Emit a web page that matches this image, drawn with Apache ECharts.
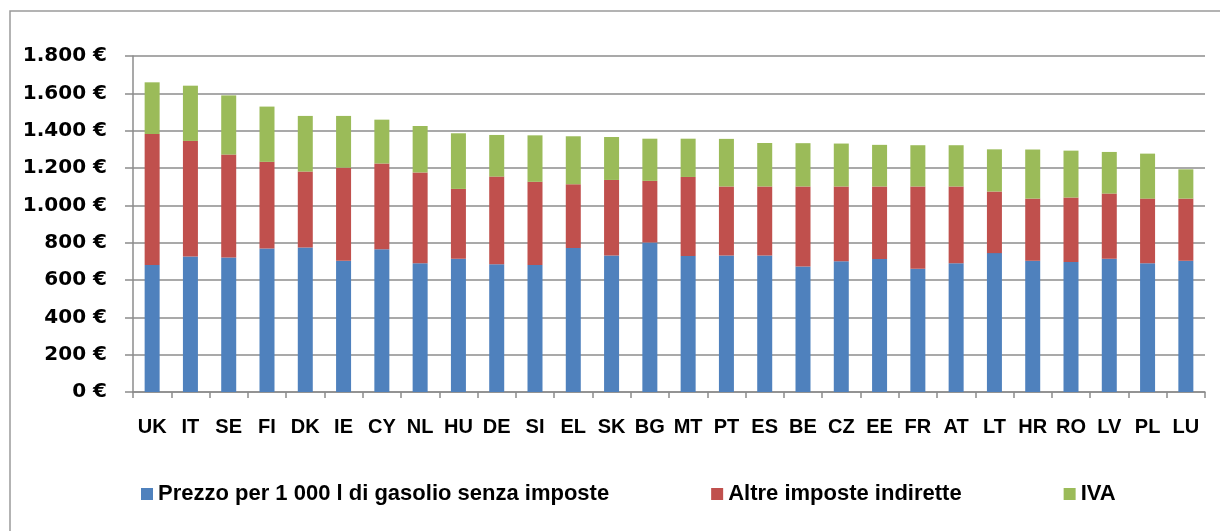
<!DOCTYPE html>
<html>
<head>
<meta charset="utf-8">
<script src="https://cdn.jsdelivr.net/npm/echarts@6/dist/echarts.min.js"></script>
<style>
  html, body { margin: 0; padding: 0; background: #fff; }
  #chart { width: 1220px; height: 531px; }
</style>
</head>
<body>
<div id="chart"></div>
<script>
var paesi = ['UK', 'IT', 'SE', 'FI', 'DK', 'IE', 'CY', 'NL', 'HU', 'DE', 'SI', 'EL', 'SK', 'BG',
    'MT', 'PT', 'ES', 'BE', 'CZ', 'EE', 'FR', 'AT', 'LT', 'HR', 'RO', 'LV', 'PL', 'LU'];

// prezzo senza imposte
var prezzo = [680, 726, 721, 769, 774, 703, 765, 690, 714, 685, 681, 771, 731, 801,
    728, 731, 731, 672, 701, 712, 660, 690, 744, 703, 697, 714, 690, 703];
// altre imposte indirette
var altreImposte = [702, 619, 551, 464, 407, 499, 459, 486, 374, 469, 445, 342, 405, 330,
    424, 370, 370, 429, 400, 389, 441, 411, 330, 333, 345, 349, 346, 333];
// IVA
var iva = [277, 296, 317, 296, 298, 277, 235, 249, 298, 223, 249, 257, 230, 226,
    205, 255, 233, 232, 230, 223, 221, 221, 226, 263, 251, 223, 241, 157];

var yTicks = [0, 200, 400, 600, 800, 1000, 1200, 1400, 1600, 1800];

function formatEuro(v) {
    return String(v).replace(/\B(?=(\d{3})+(?!\d))/g, '.') + ' €';
}

var chartDom = document.getElementById('chart');
var myChart = echarts.init(chartDom);

var option = {
    animation: false,
    graphic: [{
        type: 'rect',
        shape: { x: 10, y: 11, width: 1230, height: 540 },
        style: { fill: 'none', stroke: '#9a9a9a', lineWidth: 1.5 }
    }],
    grid: { left: 133, right: 15, top: 56, bottom: 139 },
    legend: {
        bottom: 21,
        left: 136,
        itemWidth: 12,
        itemHeight: 12,
        itemGap: 102,
        icon: 'rect',
        textStyle: { fontFamily: 'Liberation Sans', fontWeight: 'bold', fontSize: 22, color: '#000' },
        data: ['Prezzo per 1 000 l di gasolio senza imposte', 'Altre imposte indirette', 'IVA']
    },
    xAxis: {
        type: 'category',
        data: paesi,
        axisLine: { lineStyle: { color: '#8c8c8c', width: 1.5 } },
        axisTick: { show: true, length: 6, lineStyle: { color: '#8c8c8c', width: 1.5 } },
        axisLabel: {
            interval: 0,
            margin: 25,
            color: '#000',
            fontFamily: 'Liberation Sans',
            fontWeight: 'bold',
            fontSize: 20
        }
    },
    yAxis: {
        type: 'value',
        min: yTicks[0],
        max: yTicks[yTicks.length - 1],
        interval: 200,
        axisLine: { show: true, lineStyle: { color: '#8c8c8c', width: 1.5 } },
        axisTick: { show: true, length: 8, lineStyle: { color: '#8c8c8c', width: 1.5 } },
        splitLine: { lineStyle: { color: '#8c8c8c', width: 1.5 } },
        axisLabel: {
            margin: 26,
            color: '#000',
            fontFamily: 'DejaVu Sans',
            fontWeight: 'bold',
            fontSize: 20,
            formatter: formatEuro
        }
    },
    series: [
        {
            name: 'Prezzo per 1 000 l di gasolio senza imposte',
            type: 'bar',
            stack: 'tot',
            barWidth: 15,
            itemStyle: { color: '#4F81BD' },
            data: prezzo
        },
        {
            name: 'Altre imposte indirette',
            type: 'bar',
            stack: 'tot',
            barWidth: 15,
            itemStyle: { color: '#C0504D' },
            data: altreImposte
        },
        {
            name: 'IVA',
            type: 'bar',
            stack: 'tot',
            barWidth: 15,
            itemStyle: { color: '#9BBB59' },
            data: iva
        }
    ]
};

option && myChart.setOption(option);
</script>
</body>
</html>
